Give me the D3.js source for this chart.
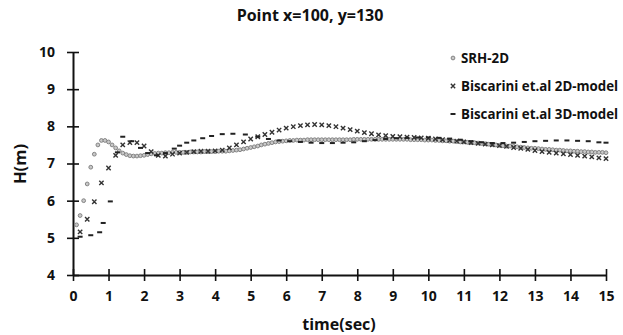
<!DOCTYPE html>
<html>
<head>
<meta charset="utf-8">
<script src="https://cdn.jsdelivr.net/npm/d3@7"></script>
<style>
  body { margin: 0; background: #fff; }
  svg text { font-family: "Open Sans", Lato, sans-serif; font-weight: bold; fill: #111; }
</style>
</head>
<body>
<svg id="chart" width="623" height="335"></svg>
<script>
// SRH-2D, every 0.1 s from 0.1 to 15.0
var srhTime = d3.range(1, 151).map(function (i) { return i / 10; });
var srhH = [
  5.35, 5.6, 6.0, 6.45, 6.9, 7.25, 7.5, 7.62, 7.62, 7.58,
  7.5, 7.42, 7.34, 7.28, 7.24, 7.21, 7.2, 7.2, 7.21, 7.22,
  7.24, 7.26, 7.27, 7.28, 7.28, 7.29, 7.29, 7.3, 7.3, 7.3,
  7.3, 7.3, 7.31, 7.31, 7.31, 7.31, 7.32, 7.32, 7.32, 7.32, 7.33, 7.33, 7.33, 7.34, 7.35,
  7.36, 7.37, 7.39, 7.41, 7.43, 7.45, 7.47, 7.5, 7.52, 7.54, 7.56, 7.58, 7.59, 7.6, 7.61,
  7.62, 7.62, 7.63, 7.63, 7.63, 7.64, 7.64, 7.64, 7.64, 7.64, 7.64, 7.64, 7.64, 7.64, 7.64,
  7.64, 7.64, 7.64, 7.65, 7.65, 7.65, 7.65, 7.65, 7.65, 7.65, 7.65, 7.65, 7.65, 7.65, 7.65,
  7.65, 7.65, 7.65, 7.65, 7.64, 7.64, 7.64, 7.64, 7.63, 7.63, 7.63, 7.62, 7.62, 7.61, 7.61,
  7.6, 7.6, 7.59, 7.58, 7.58, 7.57, 7.56, 7.56, 7.55, 7.54, 7.53, 7.52, 7.51, 7.5, 7.49,
  7.48, 7.47, 7.47, 7.46, 7.45, 7.44, 7.43, 7.42, 7.41, 7.41, 7.4, 7.39, 7.38, 7.38, 7.37,
  7.36, 7.36, 7.35, 7.34, 7.34, 7.33, 7.33, 7.32, 7.32, 7.31, 7.31, 7.3, 7.3, 7.3, 7.29
];

// Biscarini et.al 2D-model, every 0.2 s from 0.2 to 15.0
var bis2dTime = d3.range(1, 76).map(function (i) { return i / 5; });
var bis2dH = [
  5.16, 5.5, 5.97, 6.48, 6.88, 7.22, 7.5, 7.56, 7.56, 7.47,
  7.32, 7.22, 7.2, 7.25, 7.28, 7.3, 7.32, 7.33, 7.33, 7.34,
  7.36, 7.42, 7.5, 7.58, 7.66, 7.72, 7.78, 7.84, 7.9, 7.95,
  7.99, 8.02, 8.04, 8.05, 8.04, 8.02, 7.99, 7.95, 7.91, 7.87,
  7.83, 7.8, 7.77, 7.75, 7.73, 7.72, 7.71, 7.7, 7.69, 7.68,
  7.66, 7.64, 7.62, 7.6, 7.58, 7.56, 7.54, 7.52, 7.5, 7.48,
  7.46, 7.43, 7.41, 7.38, 7.35, 7.32, 7.3, 7.28, 7.26, 7.24,
  7.22, 7.2, 7.18, 7.15, 7.13
];

// Biscarini et.al 3D-model
var bis3dTime = [
  0.2, 0.5, 0.75, 0.85, 1.05, 1.25, 1.4, 1.65, 1.9, 2.1,
  2.35, 2.6, 2.85, 3.0, 3.2, 3.4, 3.65, 3.9, 4.2, 4.5,
  4.85, 5.2, 5.5, 5.8, 6.1, 6.4, 6.7, 7.0, 7.3, 7.6,
  7.9, 8.2, 8.5, 8.8, 9.1, 9.4, 9.7, 10.0, 10.3, 10.6,
  10.9, 11.2, 11.5, 11.8, 12.1, 12.4, 12.7, 13.0, 13.3, 13.6,
  13.9, 14.2, 14.5, 14.8, 15.0
];
var bis3dH = [
  5.03, 5.07, 5.15, 5.4, 5.98, 7.3, 7.72, 7.6, 7.42, 7.28,
  7.22, 7.28, 7.4, 7.48, 7.56, 7.62, 7.68, 7.74, 7.79, 7.8,
  7.78, 7.72, 7.66, 7.62, 7.6, 7.58, 7.56, 7.55, 7.55, 7.56,
  7.57, 7.6, 7.63, 7.66, 7.68, 7.69, 7.7, 7.7, 7.69, 7.67,
  7.64, 7.6, 7.57, 7.55, 7.55, 7.56, 7.58, 7.6, 7.61, 7.62,
  7.62, 7.61, 7.6, 7.57, 7.56
];

var xTicks = d3.range(0, 16);
var yTicks = d3.range(4, 11);
var seriesNames = ['SRH-2D', 'Biscarini et.al 2D-model', 'Biscarini et.al 3D-model'];

var svg = d3.select('#chart');
var x = d3.scaleLinear().domain([0, 15]).range([73, 606]);
var y = d3.scaleLinear().domain([4, 10]).range([275, 52]);

// axes, ticks cross the axis line
var xAxis = svg.append('g')
  .attr('transform', 'translate(0,' + y(4) + ')')
  .call(d3.axisBottom(x).tickValues(xTicks).tickSize(0).tickPadding(16).tickFormat(d3.format('d')));
xAxis.selectAll('.tick line').attr('y1', -6).attr('y2', 6).attr('stroke', '#111').attr('stroke-width', 1.6);

var yAxis = svg.append('g')
  .attr('transform', 'translate(' + x(0) + ',0)')
  .call(d3.axisLeft(y).tickValues(yTicks).tickSize(0).tickPadding(18).tickFormat(d3.format('d')));
yAxis.selectAll('.tick line').attr('x1', -6).attr('x2', 6).attr('stroke', '#111').attr('stroke-width', 1.6);

svg.selectAll('.domain').attr('stroke', '#111').attr('stroke-width', 2);
svg.selectAll('.tick text').style('font-size', '14px');

// series
var srh = d3.zip(srhTime, srhH);
var b2 = d3.zip(bis2dTime, bis2dH);
var b3 = d3.zip(bis3dTime, bis3dH);

svg.append('g').selectAll('circle').data(srh).enter().append('circle')
  .attr('cx', function (d) { return x(d[0]); })
  .attr('cy', function (d) { return y(d[1]); })
  .attr('r', 1.9)
  .attr('fill', '#c8c8c8')
  .attr('stroke', '#7a7a7a')
  .attr('stroke-width', 0.9);

var cross = d3.symbol().type(d3.symbolX).size(14);
svg.append('g').selectAll('path').data(b2).enter().append('path')
  .attr('d', cross)
  .attr('transform', function (d) { return 'translate(' + x(d[0]) + ',' + y(d[1]) + ')'; })
  .attr('stroke', '#333')
  .attr('stroke-width', 1.4)
  .attr('fill', 'none');

svg.append('g').selectAll('rect').data(b3).enter().append('rect')
  .attr('x', function (d) { return x(d[0]) - 2.5; })
  .attr('y', function (d) { return y(d[1]) - 1; })
  .attr('width', 5)
  .attr('height', 2)
  .attr('fill', '#222');

// legend
var legend = svg.append('g').attr('transform', 'translate(453,58)');
seriesNames.forEach(function (name, i) {
  var row = legend.append('g').attr('transform', 'translate(0,' + (i * 28) + ')');
  if (i === 0) {
    row.append('circle').attr('r', 1.9).attr('fill', '#c8c8c8').attr('stroke', '#7a7a7a').attr('stroke-width', 0.9);
  } else if (i === 1) {
    row.append('path').attr('d', cross).attr('stroke', '#333').attr('stroke-width', 1.4).attr('fill', 'none');
  } else {
    row.append('rect').attr('x', -2.5).attr('y', -1).attr('width', 5).attr('height', 2).attr('fill', '#222');
  }
  row.append('text').attr('x', 8).attr('dy', '0.35em').style('font-size', '13.3px').text(name);
});

// titles
svg.append('text')
  .attr('x', 310).attr('y', 21)
  .attr('text-anchor', 'middle')
  .style('font-size', '16px')
  .text('Point x=100, y=130');

svg.append('text')
  .attr('x', 339).attr('y', 330)
  .attr('text-anchor', 'middle')
  .style('font-size', '16px')
  .text('time(sec)');

svg.append('text')
  .attr('transform', 'translate(26,164) rotate(-90)')
  .attr('text-anchor', 'middle')
  .style('font-size', '16.5px')
  .text('H(m)');
</script>
</body>
</html>
